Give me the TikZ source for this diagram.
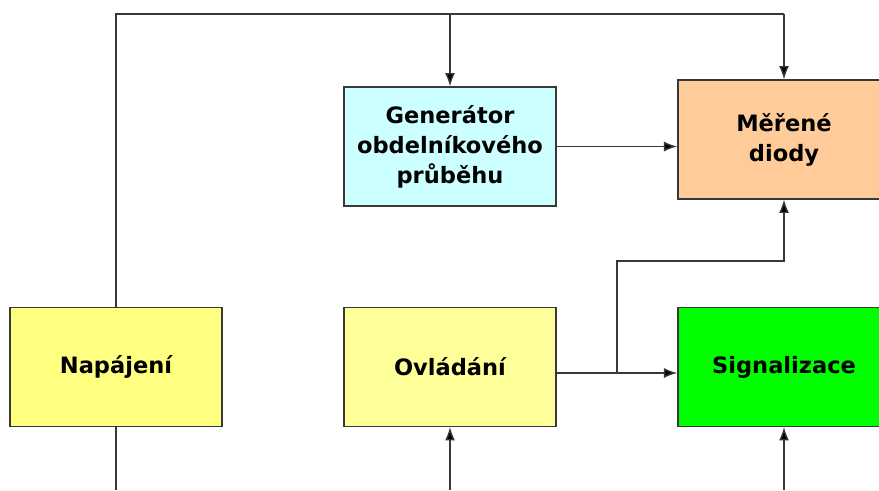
\documentclass[tikz,border=0pt]{standalone}
\usepackage{fontspec}
\setmainfont{DejaVu Sans}
\usepackage{xcolor}
\usetikzlibrary{arrows.meta, positioning}
\definecolor{genblue}{HTML}{CCFFFF}
\definecolor{diodeorange}{HTML}{FFCC99}
\definecolor{supplyyellow}{HTML}{FFFF80}
\definecolor{ctrlyellow}{HTML}{FFFF99}
\definecolor{signalgreen}{HTML}{00FF00}
\definecolor{edge}{HTML}{383838}

\begin{document}
\begin{tikzpicture}[
  x=0.75pt, y=-0.75pt,
  font=\bfseries\fontsize{16.9}{22.5}\selectfont,
  box/.style={rectangle, draw=edge, line width=1.1pt, fill=#1,
    minimum width=159pt, minimum height=89pt, align=center, inner sep=2pt},
  wire/.style={draw=edge, line width=1pt},
  arr/.style={wire, -{Latex[length=10pt, width=7.5pt, fill=black]}}
]
\useasboundingbox (0,0) rectangle (879,490);
\clip (0,0) rectangle (879,490);
% blocks
\node[box=supplyyellow] (nap) at (116,367) {Napájení};
\node[box=ctrlyellow, right=90.4pt of nap] (ovl) {Ovládání};
\node[box=signalgreen, right=90.4pt of ovl] (sig) {Signalizace};
\node[box=genblue] (gen) at (450,146.5) {Generátor\\obdelníkového\\průběhu};
\node[box=diodeorange] (mer) at (784,139.5) {Měřené\\diody};
% supply bus on top
\coordinate (topL) at (nap.north |- 0,14);
\coordinate (topR) at (mer.north |- 0,14);
\draw[wire] (nap.north) -- (topL) -- (topR);
\draw[arr] (topR) -- (mer.north);
\draw[arr] (gen.north |- topL) -- (gen.north);
% signal paths
\draw[arr] (gen.east) -- (gen.east -| mer.west);
\coordinate (ovlout) at ([yshift=-4.5pt]ovl.east);
\coordinate (br) at (617,0 |- ovlout);
\draw[arr] (ovlout) -- (ovlout -| sig.west);
\draw[arr] (br) |- (mer.south |- 0,261) -- (mer.south);
% lines from below
\draw[wire] (nap.south) -- (nap.south |- 0,490);
\draw[arr] (ovl.south |- 0,490) -- (ovl.south);
\draw[arr] (sig.south |- 0,490) -- (sig.south);
\end{tikzpicture}
\end{document}
